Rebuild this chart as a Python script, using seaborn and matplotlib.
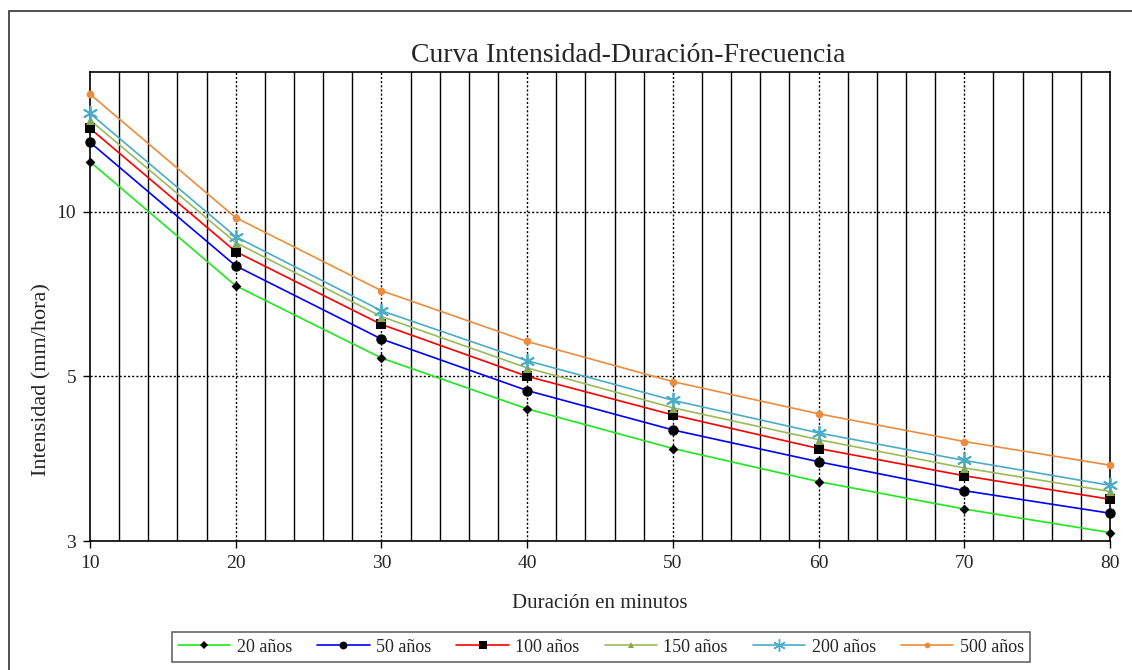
import numpy as np
import pandas as pd
import seaborn as sns
import matplotlib
matplotlib.use("Agg")
import matplotlib.pyplot as plt
from matplotlib.lines import Line2D
from matplotlib.patches import Rectangle
from matplotlib.ticker import FixedLocator, FixedFormatter, NullLocator

duracion = [10, 20, 30, 40, 50, 60, 70, 80]
series = ["20 años", "50 años", "100 años", "150 años", "200 años", "500 años"]
i20 = [12.34, 7.32, 5.40, 4.36, 3.69, 3.21, 2.86, 2.59]
i50 = [13.39, 7.96, 5.85, 4.71, 3.99, 3.49, 3.09, 2.81]
i100 = [14.20, 8.45, 6.22, 5.00, 4.25, 3.69, 3.29, 2.98]
i150 = [14.70, 8.78, 6.43, 5.18, 4.38, 3.83, 3.40, 3.08]
i200 = [15.12, 9.00, 6.59, 5.34, 4.52, 3.94, 3.51, 3.16]
i500 = [16.40, 9.75, 7.17, 5.79, 4.89, 4.27, 3.80, 3.44]
ytick_vals = [2.5, 5, 10]
ytick_labels = ["3", "5", "10"]
xtick_vals = [10, 20, 30, 40, 50, 60, 70, 80]

values = [i20, i50, i100, i150, i200, i500]
df = pd.DataFrame({
    "Duración": np.tile(duracion, len(series)),
    "Intensidad": np.concatenate(values),
    "Serie": np.repeat(series, len(duracion)),
})

line_colors = {"20 años": "#1ee81e", "50 años": "#0000ff", "100 años": "#ff0000",
               "150 años": "#9bbb59", "200 años": "#4bacc6", "500 años": "#ec8c3c"}
marker_colors = {"20 años": "black", "50 años": "black", "100 años": "black",
                 "150 años": "#8aa84e", "200 años": "#4bacc6", "500 años": "#ec8c3c"}
markers = {"20 años": "D", "50 años": "o", "100 años": "s",
           "150 años": "^", "200 años": (6, 2, 0), "500 años": "o"}
msizes = {"20 años": 5, "50 años": 7.5, "100 años": 7,
          "150 años": 6.5, "200 años": 10, "500 años": 5.5}

sns.set_style("white")
plt.rcParams["font.family"] = ["Liberation Serif", "DejaVu Serif"]

fig = plt.figure(figsize=(11.32, 6.70), dpi=100)
ax = fig.add_axes([90/1132, 1-541/670, 1020/1132, (541-72)/670])

# grid
for xv in range(12, 80, 2):
    if xv % 10 == 0:
        ax.axvline(xv, color="black", lw=1.0, ls=(0, (1.5, 1.5)), zorder=1)
    else:
        ax.axvline(xv, color="black", lw=1.0, zorder=1)
for yv in [5, 10]:
    ax.axhline(yv, color="black", lw=1.0, ls=(0, (1.5, 1.5)), zorder=1)

sns.lineplot(data=df, x="Duración", y="Intensidad", hue="Serie", palette=line_colors,
             hue_order=series, lw=1.2, ax=ax, legend=False, zorder=3)
for s in series:
    sub = df[df["Serie"] == s]
    m = markers[s]
    kw = dict(color=marker_colors[s], s=msizes[s]**2, marker=m, zorder=5, ax=ax,
              legend=False, clip_on=False)
    if s == "200 años":
        kw.update(linewidth=1.3, edgecolor=marker_colors[s])
    else:
        kw.update(linewidth=0)
    sns.scatterplot(data=sub, x="Duración", y="Intensidad", **kw)

ax.set_yscale("log")
ax.set_xlim(10, 80)
ax.set_ylim(2.5, 18)
ax.yaxis.set_major_locator(FixedLocator(ytick_vals))
ax.yaxis.set_major_formatter(FixedFormatter(ytick_labels))
ax.yaxis.set_minor_locator(NullLocator())
ax.set_xticks(xtick_vals)
ax.set_xticklabels([str(v) for v in xtick_vals])
ax.tick_params(axis="both", which="major", direction="out", length=5, width=1,
               color="black", labelsize=14, pad=5, bottom=True, left=True)
for sp in ax.spines.values():
    sp.set_color("black")
    sp.set_linewidth(1.2)
    sp.set_visible(True)

ax.set_xlabel("Duración en minutos", fontsize=15, labelpad=16)
ax.set_ylabel("Intensidad (mm/hora)", fontsize=16)
ax.yaxis.set_label_coords((51 - 90) / 1020, (541 - 380) / 469)
fig.text(628/1132, 1-55/670, "Curva Intensidad-Duración-Frecuencia", fontsize=20,
         ha="center", va="center")

handles = []
for s in series:
    ms = msizes[s] * (0.75 if s != "200 años" else 0.9)
    handles.append(Line2D([0], [0], color=line_colors[s], lw=1.2, marker=markers[s],
                          markersize=ms, markerfacecolor=marker_colors[s],
                          markeredgecolor=marker_colors[s], markeredgewidth=1.0 if s == "200 años" else 0))
leg = fig.legend(handles, series, loc="center", bbox_to_anchor=(601/1132, 1-647/670),
                 ncol=6, fontsize=13, frameon=True, fancybox=False, handlelength=2.9,
                 columnspacing=1.4, handletextpad=0.35, borderpad=0.35)
leg.get_frame().set_edgecolor("#404040")
leg.get_frame().set_linewidth(1.2)

fig.patches.append(Rectangle((9/1132, -0.1), 1.2, 1 - 11/670 + 0.1, transform=fig.transFigure,
                             fill=False, edgecolor="#333333", lw=1.2))

fig.savefig("out.png", dpi=100)
